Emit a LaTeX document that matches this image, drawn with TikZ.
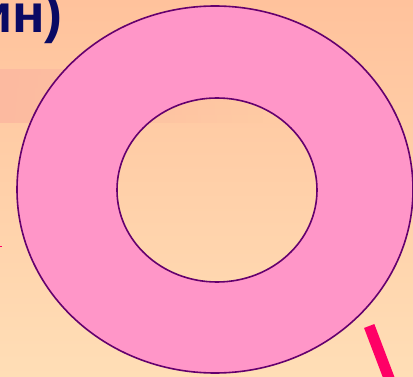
\documentclass[tikz,border=0pt]{standalone}
\usepackage{fontspec}
\setmainfont{Liberation Sans}
\usetikzlibrary{fadings}
\definecolor{bgtop}{RGB}{255,194,156}
\definecolor{bgbot}{RGB}{255,222,182}
\definecolor{bandc}{RGB}{252,186,160}
\definecolor{ringfill}{RGB}{255,150,200}
\definecolor{ringedge}{RGB}{100,0,110}
\definecolor{navy}{RGB}{10,10,100}
\definecolor{mag}{RGB}{255,0,102}
\tikzset{
  ring/.style={fill=ringfill, draw=ringedge, line width=1.6pt, even odd rule},
  title/.style={font=\bfseries\fontsize{54}{60}\selectfont, text=navy, inner sep=0pt},
  stick/.style={draw=mag, line width=11pt, line cap=butt}
}
\begin{document}
\begin{tikzpicture}[x=1pt,y=-1pt]
\useasboundingbox (0,0) rectangle (413,377);
\begin{scope}
\clip (0,0) rectangle (413,377);
\shade[top color=bgtop, bottom color=bgbot] (0,0) rectangle (413,377);
\fill[bandc, path fading=east] (0,69) rectangle (263,123);
\node[title, anchor=base east] (t) at (63,33) {ин)};
\path[ring] (215,189.5) ellipse [x radius=198, y radius=183.5]
            (217,190) ellipse [x radius=100, y radius=92];
\coordinate (s1) at (369.2,326);
\coordinate (s2) at (392,386);
\draw[stick] (s1) -- (s2);
\coordinate (m1) at (-1,246.5);
\coordinate (m2) at (1.5,246.5);
\draw[mag, line width=1.5pt] (m1) -- (m2);
\end{scope}
\end{tikzpicture}
\end{document}
